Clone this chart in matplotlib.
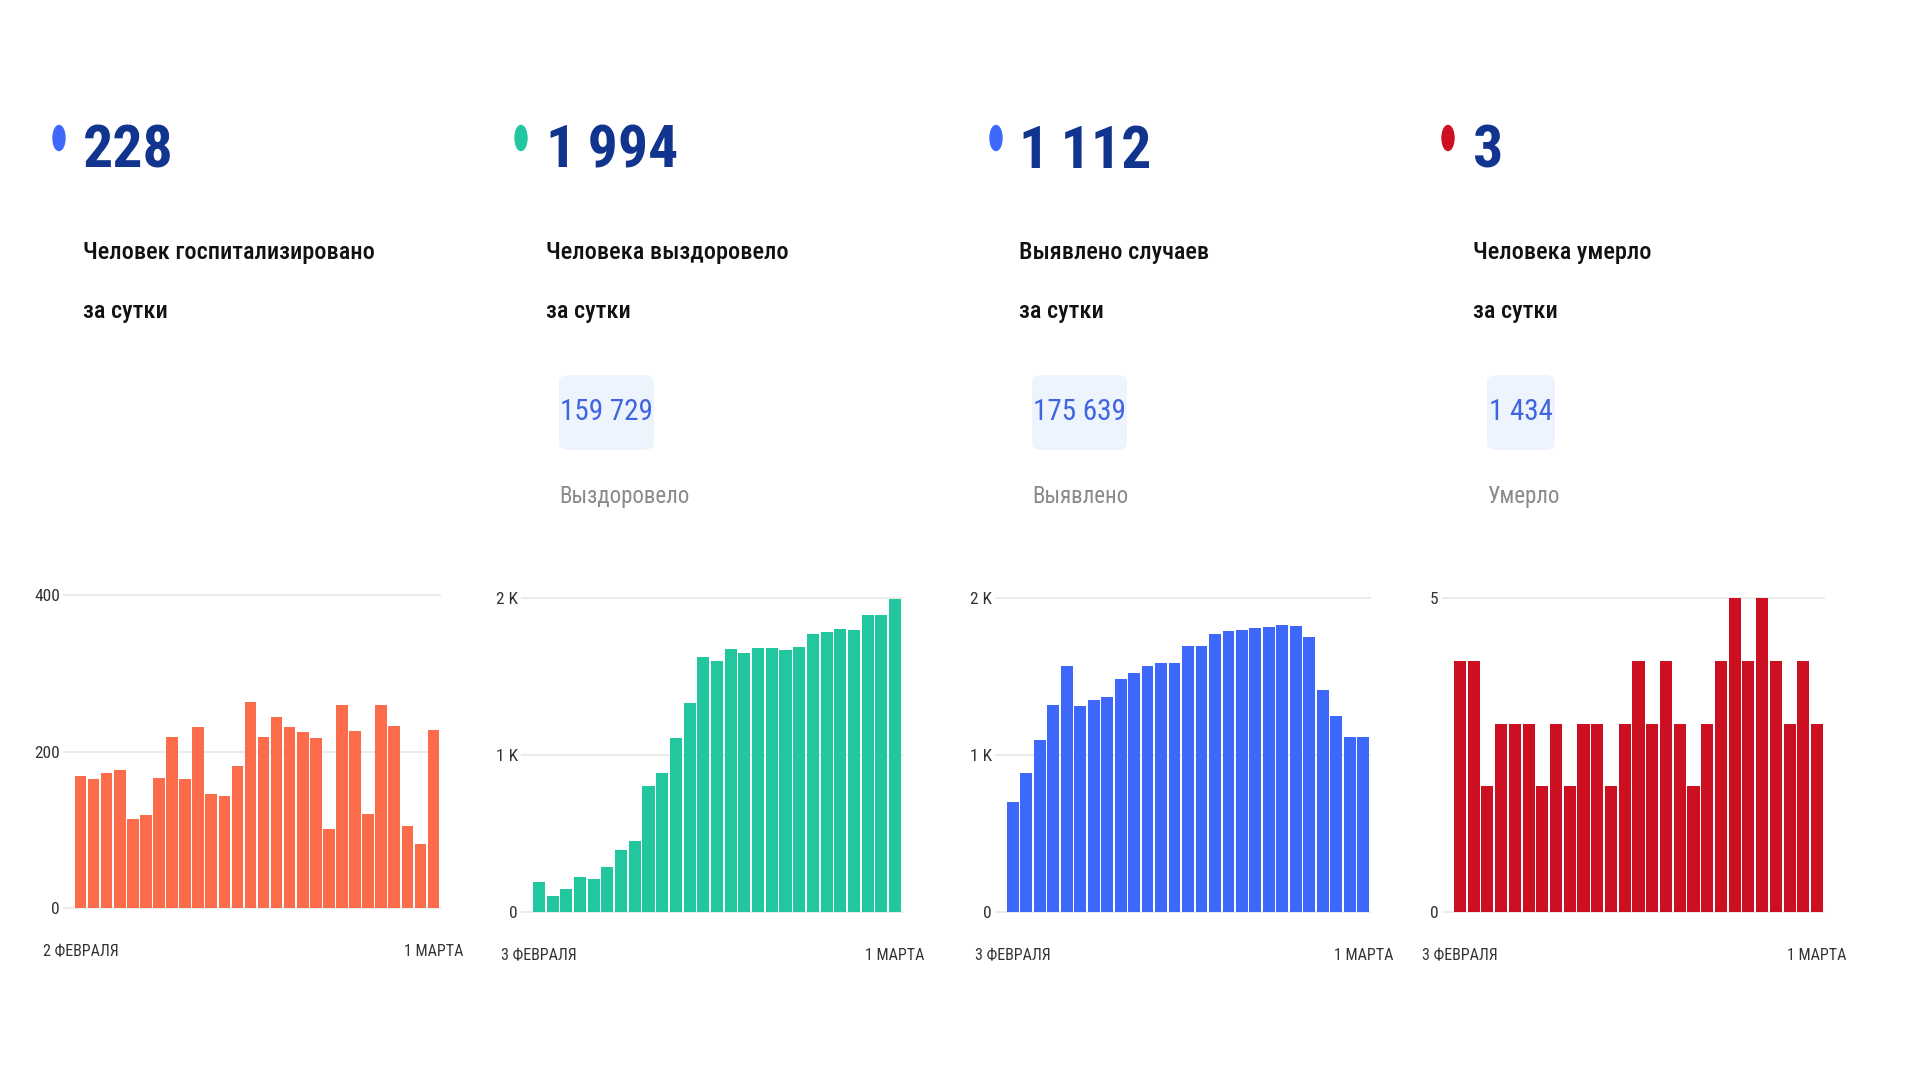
import matplotlib
matplotlib.use("Agg")
import matplotlib.pyplot as plt
from matplotlib import font_manager
from matplotlib.patches import Ellipse, FancyBboxPatch

W, H = 1920, 1080

# daily values
hospitalized = [169, 165, 172, 176, 114, 119, 166, 218, 165, 231, 146, 143, 181, 263,
                218, 244, 231, 225, 217, 101, 260, 226, 120, 259, 233, 105, 82, 228]
recovered = [191, 102, 149, 223, 210, 287, 395, 452, 800, 883, 1110, 1333, 1624, 1601,
             1673, 1648, 1684, 1684, 1669, 1688, 1771, 1786, 1803, 1798, 1890, 1894, 1994]
cases = [701, 885, 1098, 1318, 1565, 1314, 1352, 1369, 1484, 1520, 1569, 1588, 1588, 1694,
         1692, 1771, 1792, 1798, 1807, 1817, 1828, 1824, 1749, 1416, 1251, 1115, 1112]
deaths = [4, 4, 2, 3, 3, 3, 2, 3, 2, 3, 3, 2, 3, 4, 3, 4, 3, 2, 3, 4, 5, 4, 5, 4, 3, 4, 3]

headline = ["228", "1\u2009994", "1\u2009112", "3"]
subtitle = ["Человек госпитализировано", "Человека выздоровело",
            "Выявлено случаев", "Человека умерло"]
totals = [None, "159 729", "175 639", "1 434"]
total_label = [None, "Выздоровело", "Выявлено", "Умерло"]

yticks = [[0, 200, 400], [0, 1000, 2000], [0, 1000, 2000], [0, 5]]
yticklabels = [["0", "200", "400"], ["0", "1 K", "2 K"], ["0", "1 K", "2 K"], ["0", "5"]]
first_day = ["2 ФЕВРАЛЯ", "3 ФЕВРАЛЯ", "3 ФЕВРАЛЯ", "3 ФЕВРАЛЯ"]
last_day = "1 МАРТА"

bar_colors = ["#fc6b4a", "#22c79f", "#3d68fb", "#cc0f21"]
dot_colors = ["#3d68fb", "#22c79f", "#3d68fb", "#cc0f21"]
NAVY = "#11358e"

# pick a narrow face if there is one, the reference text is very condensed
installed = {f.name for f in font_manager.fontManager.ttflist}
FONT = "Roboto"
for name in ["Roboto Condensed", "Liberation Sans Narrow", "Open Sans Condensed"]:
    if name in installed:
        FONT = name
        break
plt.rcParams["font.family"] = [FONT, "DejaVu Sans"]


def fx(px):
    return px / W


def fy(py):
    return 1 - py / H


# (left of bars, right of bars, y of zero line, y of top gridline) in pixels
panels = [
    (74, 440, 908, 595),
    (532, 902, 912, 598),
    (1006, 1370, 912, 598),
    (1453, 1824, 912, 598),
]
text_left = [83, 546, 1019, 1473]
dot_x = [59, 521, 996, 1448]
badge_left = [None, 559, 1032, 1487]
series = [hospitalized, recovered, cases, deaths]

fig = plt.figure(figsize=(W / 100, H / 100), dpi=100)
fig.patch.set_facecolor("white")

for i, vals in enumerate(series):
    bl, br, y0, ytop = panels[i]
    n = len(vals)
    slot = (br - bl) / n
    pad = 10
    ax = fig.add_axes([fx(bl - pad), fy(y0), (br - bl + pad) / W, (y0 - ytop) / H])
    ax.bar(range(n), vals, width=0.88, color=bar_colors[i], linewidth=0, zorder=2)
    ax.set_xlim(-0.5 - pad / slot, n - 0.5)
    ax.set_ylim(0, yticks[i][-1])
    ax.set_yticks(yticks[i])
    ax.set_yticklabels(yticklabels[i])
    ax.yaxis.grid(True, color="#ebebeb", linewidth=1.5, zorder=0)
    for gl in ax.get_ygridlines():
        gl.set_clip_on(False)
    ax.set_xticks([0, n - 1])
    ax.set_xticklabels([first_day[i], last_day])
    ax.tick_params(axis="y", length=0, labelsize=12.5, labelcolor="#333333", pad=3)
    ax.tick_params(axis="x", length=0, labelsize=11.5, labelcolor="#333333", pad=26)
    for s in ax.spines.values():
        s.set_visible(False)
    ax.set_facecolor("none")

    # header block
    fig.patches.append(Ellipse((fx(dot_x[i]), fy(138)), 12 / W, 25 / H,
                               transform=fig.transFigure, color=dot_colors[i]))
    fig.text(fx(text_left[i]), fy(168), headline[i], fontsize=43, fontweight="bold",
             color=NAVY, va="baseline", ha="left")
    fig.text(fx(text_left[i]), fy(259), subtitle[i], fontsize=17.5, fontweight="medium",
             color="#111111", va="baseline", ha="left")
    fig.text(fx(text_left[i]), fy(318), "за сутки", fontsize=17.5, fontweight="medium",
             color="#111111", va="baseline", ha="left")

    if totals[i] is not None:
        bw = 95 if len(totals[i]) > 5 else 68
        fig.patches.append(FancyBboxPatch((fx(badge_left[i]), fy(450)), bw / W, 75 / H,
                                          boxstyle="round,pad=0,rounding_size=0.006",
                                          transform=fig.transFigure,
                                          facecolor="#eef4fd", edgecolor="none"))
        fig.text(fx(badge_left[i] + bw / 2), fy(412), totals[i], fontsize=21,
                 color="#3f66e0", va="center", ha="center")
        fig.text(fx(badge_left[i]), fy(503), total_label[i], fontsize=16.5,
                 color="#8a8a8a", va="baseline", ha="left")

fig.savefig("out.png", dpi=100, facecolor="white")
